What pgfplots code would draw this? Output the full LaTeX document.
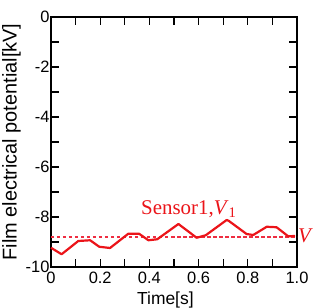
\documentclass[border=0pt]{standalone}
\usepackage{pgfplots}
\pgfplotsset{compat=1.18}
\usepackage{fontspec}
\setmainfont{Liberation Sans}
\newfontfamily\seriffont{Liberation Serif}
\definecolor{lineRed}{RGB}{235,20,25}
\definecolor{refRed}{RGB}{238,45,65}

\begin{document}
\begin{tikzpicture}
\begin{axis}[
  scale only axis,
  width=246bp, height=250bp,
  xmin=0, xmax=1, ymin=-10, ymax=0,
  xtick={0,0.2,...,1.0},
  minor xtick={0.1,0.3,...,0.9},
  ytick={-10,-8,...,0},
  minor ytick={-9,-7,...,-1},
  xticklabels={0,0.2,0.4,0.6,0.8,1.0},
  tick align=inside,
  major tick length=8bp, minor tick length=8bp,
  tick style={line width=1.2bp, black},
  axis line style={line width=1.6bp},
  ticklabel style={font=\fontsize{16.5}{16.5}\selectfont},
  /pgf/number format/assume math mode=true,
  yticklabel style={xshift=2bp},
  xticklabel style={yshift=-2bp},
  xlabel={Time[s]},
  ylabel={Film electrical potential[kV]},
  every axis x label/.style={
    at={(axis description cs:0.465,0)}, anchor=base,
    yshift=-37bp, font=\fontsize{17.5}{17.5}\selectfont},
  ylabel style={font=\fontsize{20}{20}\selectfont, yshift=-2bp},
  clip=false,
]
% reference potential V_1
\addplot[refRed, line width=1.1bp, dash pattern=on 3.5bp off 2.5bp] coordinates {(0,-8.8) (1,-8.8)};
% sensor 1 trace
\addplot[lineRed, line width=2.2bp, line join=round] coordinates {
  (0.000,-9.23) (0.043,-9.49) (0.111,-8.96) (0.159,-8.93) (0.196,-9.19)
  (0.240,-9.24) (0.314,-8.67) (0.358,-8.67) (0.396,-8.93) (0.432,-8.89)
  (0.518,-8.28) (0.592,-8.83) (0.629,-8.73) (0.714,-8.12) (0.722,-8.15)
  (0.795,-8.68) (0.822,-8.72) (0.877,-8.39) (0.917,-8.41) (0.964,-8.77)
  (0.992,-8.76)
};
\node[text=lineRed, font=\seriffont\fontsize{21}{21}\selectfont, anchor=base]
  at (axis cs:0.56,-7.9) {Sensor1,\textit{V}\textsubscript{1}};
\node[text=lineRed, font=\seriffont\fontsize{21}{21}\selectfont, anchor=west, inner sep=1bp]
  at (axis cs:1.0,-8.8) {\textit{V}\textsubscript{1}};
\coordinate (sw) at (rel axis cs:0,0);
\coordinate (ne) at (rel axis cs:1,1);
\end{axis}
\pgfresetboundingbox
\path ([shift={(-51bp,-41bp)}]sw) rectangle ([shift={(16bp,17bp)}]ne);
\end{tikzpicture}
\end{document}
